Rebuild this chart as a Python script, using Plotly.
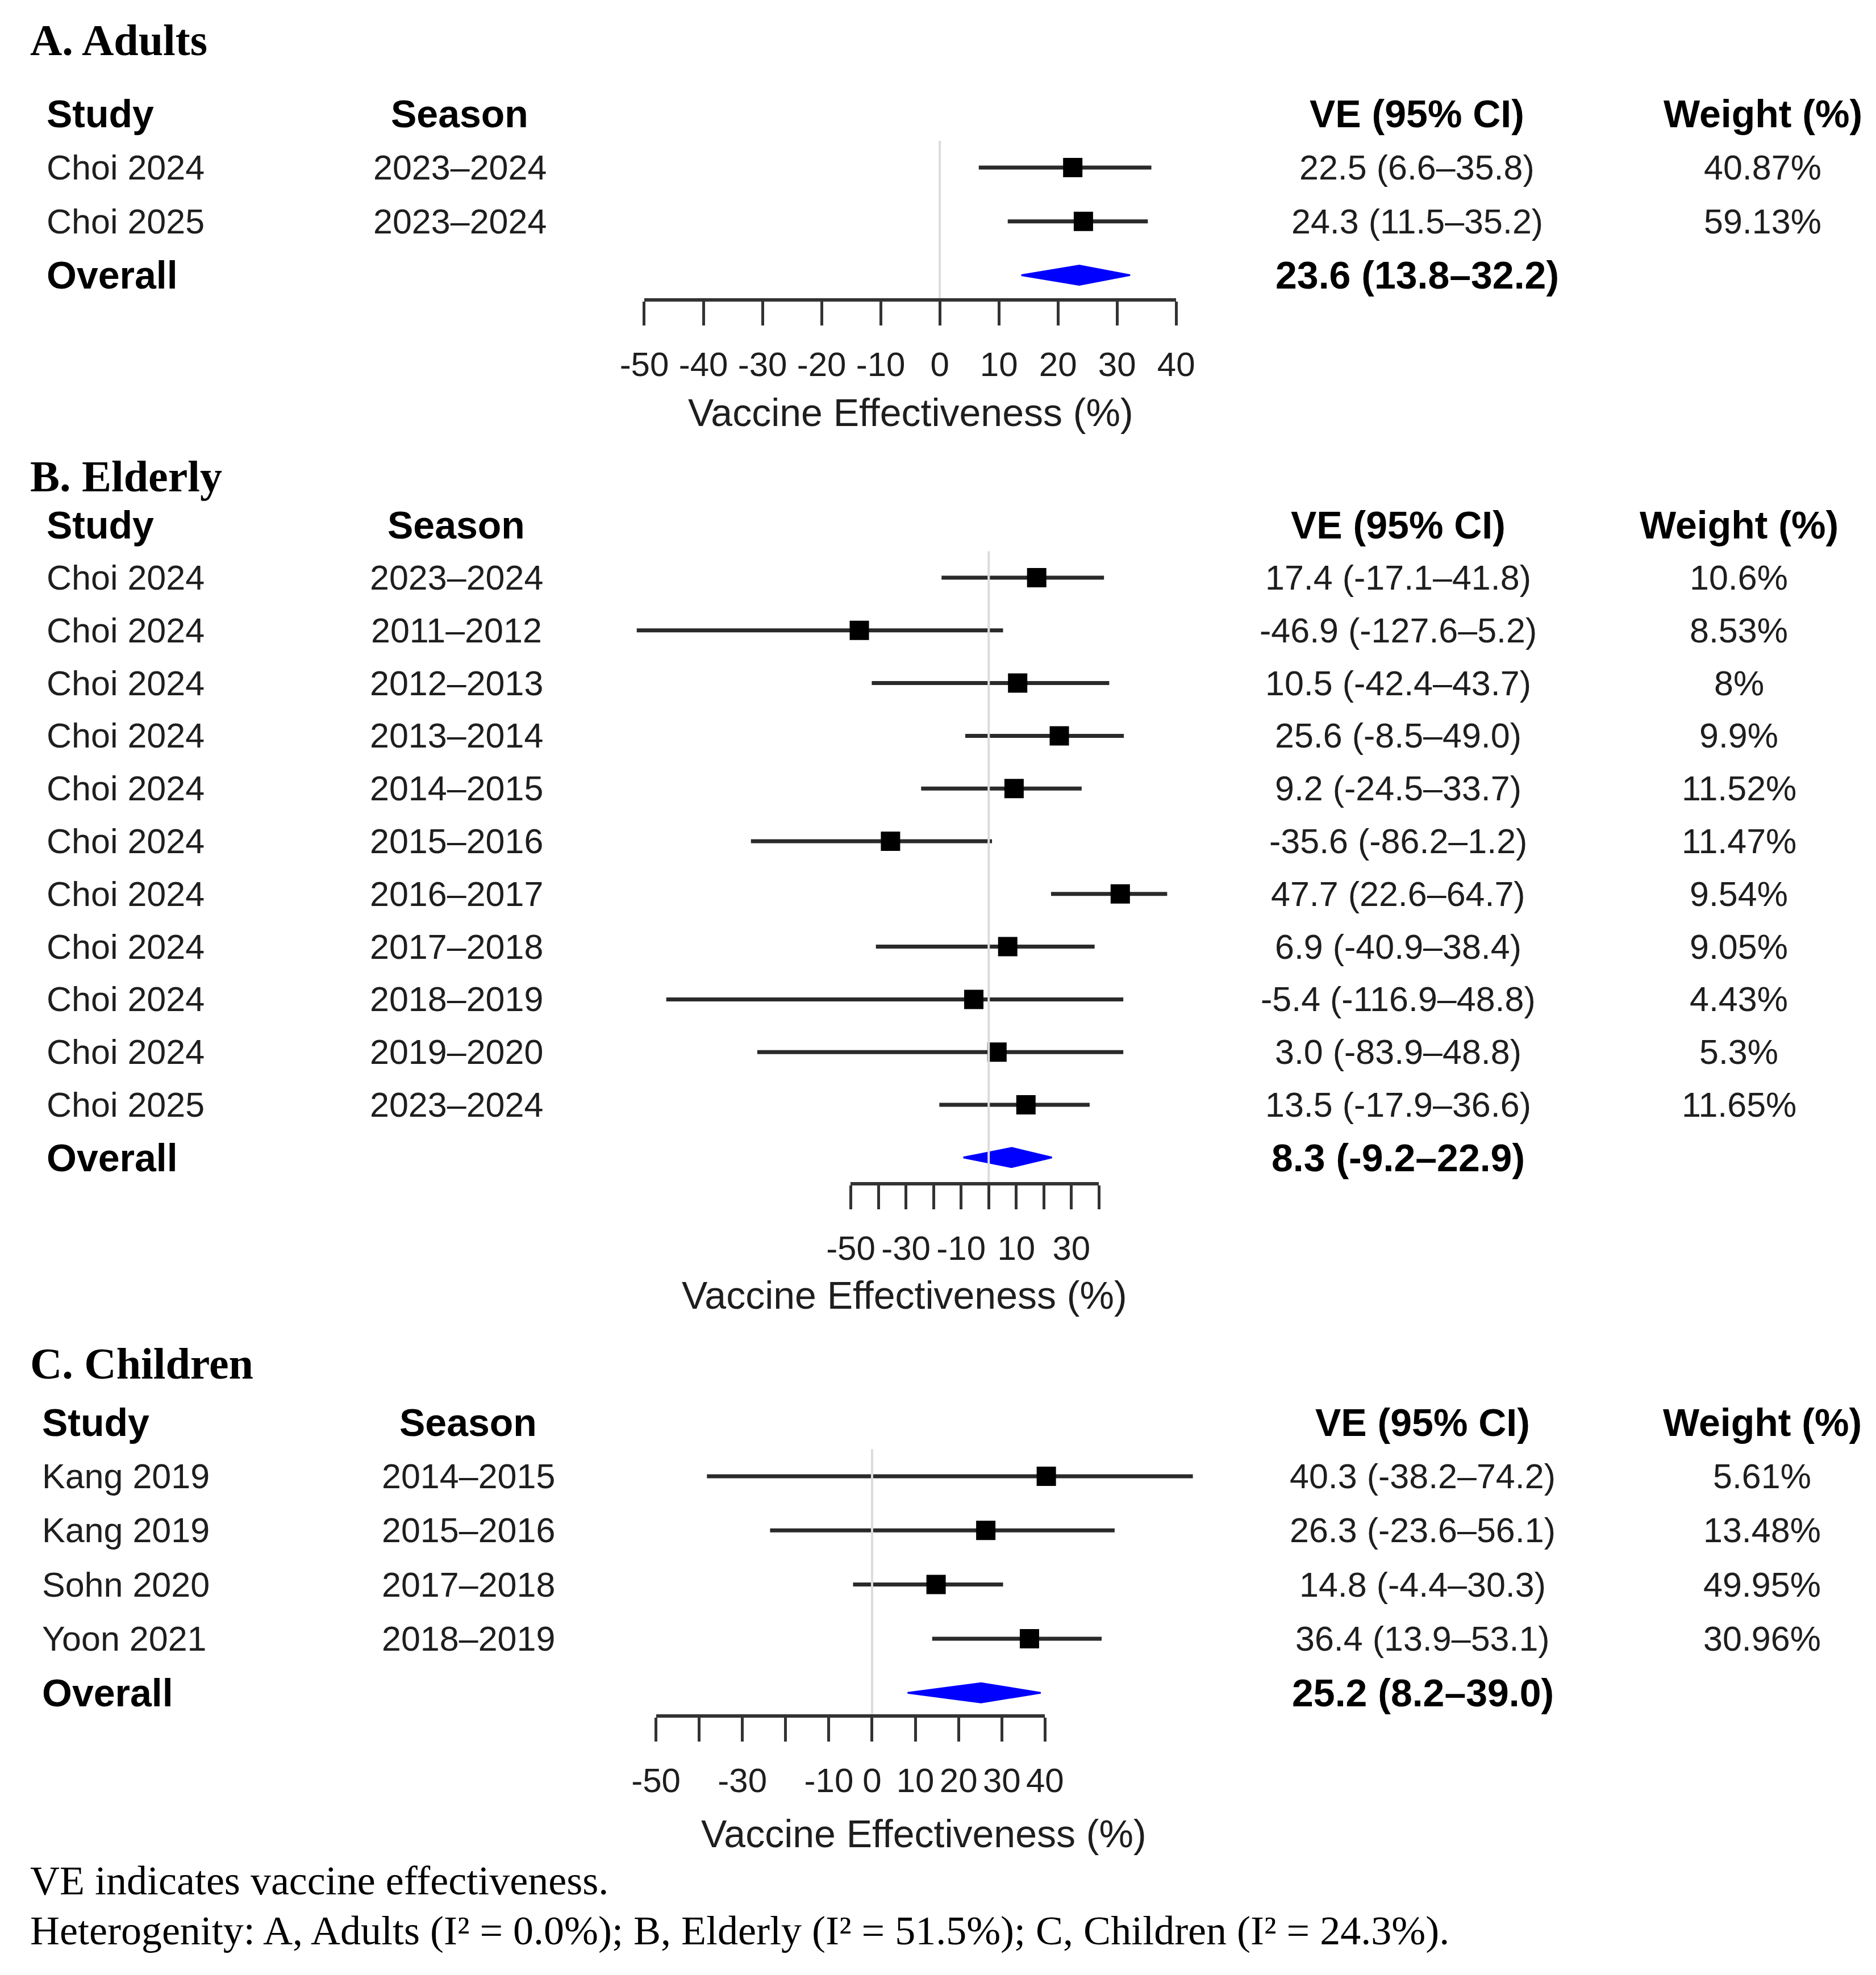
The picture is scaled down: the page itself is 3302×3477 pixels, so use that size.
import plotly.graph_objects as go

W, H = 3302, 3477
SANS = "Liberation Sans, Arial, sans-serif"
SERIF = "Liberation Serif, Times New Roman, serif"
INK = "#1e1e1e"

# ---- data ----
adult_study = ["Choi 2024", "Choi 2025"]
adult_season = ["2023–2024", "2023–2024"]
adult_ve = [22.5, 24.3]
adult_lo = [6.6, 11.5]
adult_hi = [35.8, 35.2]
adult_w = [40.87, 59.13]
adult_pooled = [23.6, 13.8, 32.2]

eld_study = ["Choi 2024"] * 10 + ["Choi 2025"]
eld_season = ["2023–2024", "2011–2012", "2012–2013", "2013–2014", "2014–2015",
              "2015–2016", "2016–2017", "2017–2018", "2018–2019", "2019–2020",
              "2023–2024"]
eld_ve = [17.4, -46.9, 10.5, 25.6, 9.2, -35.6, 47.7, 6.9, -5.4, 3.0, 13.5]
eld_lo = [-17.1, -127.6, -42.4, -8.5, -24.5, -86.2, 22.6, -40.9, -116.9, -83.9, -17.9]
eld_hi = [41.8, 5.2, 43.7, 49.0, 33.7, 1.2, 64.7, 38.4, 48.8, 48.8, 36.6]
eld_w = [10.6, 8.53, 8, 9.9, 11.52, 11.47, 9.54, 9.05, 4.43, 5.3, 11.65]
eld_pooled = [8.3, -9.2, 22.9]

child_study = ["Kang 2019", "Kang 2019", "Sohn 2020", "Yoon 2021"]
child_season = ["2014–2015", "2015–2016", "2017–2018", "2018–2019"]
child_ve = [40.3, 26.3, 14.8, 36.4]
child_lo = [-38.2, -23.6, -4.4, 13.9]
child_hi = [74.2, 56.1, 30.3, 53.1]
child_w = [5.61, 13.48, 49.95, 30.96]
child_pooled = [25.2, 8.2, 39.0]

tick_vals = [-50, -40, -30, -20, -10, 0, 10, 20, 30, 40]
tick_text_a = ["-50", "-40", "-30", "-20", "-10", "0", "10", "20", "30", "40"]
tick_text_b = ["-50", "", "-30", "", "-10", "", "10", "", "30", ""]
tick_text_c = ["-50", "", "-30", "", "-10", "0", "10", "20", "30", "40"]

# page placement: measured positions -> figure pixels (the page sits a bit in from the left)
SX, OX, OY = 1.0248, -49, -8


def fx(v):
    return max(0.0, SX * v + OX)


def fy(v):
    return v + OY


panels = [
    dict(title="A. Adults", title_y=70, study=adult_study, season=adult_season,
         ve=adult_ve, lo=adult_lo, hi=adult_hi, w=adult_w, pooled=adult_pooled,
         ticktext=tick_text_a, row1=295, sp=94.7, zero=1649, ppu=10.39, axis_px=528,
         xt_x=1598, xt_y=726, cols=(77, 805, 2488, 3096)),
    dict(title="B. Elderly", title_y=838, study=eld_study, season=eld_season,
         ve=eld_ve, lo=eld_lo, hi=eld_hi, w=eld_w, pooled=eld_pooled,
         ticktext=tick_text_b, row1=1017, sp=92.8, zero=1735, ppu=4.849, axis_px=2084,
         xt_x=1587, xt_y=2280, cols=(77, 799, 2455, 3054)),
    dict(title="C. Children", title_y=2400, study=child_study, season=child_season,
         ve=child_ve, lo=child_lo, hi=child_hi, w=child_w, pooled=child_pooled,
         ticktext=tick_text_c, row1=2599, sp=95.3, zero=1530, ppu=7.6, axis_px=3021,
         xt_x=1621, xt_y=3228, cols=(69, 820, 2498, 3095)),
]

fig = go.Figure()
annotations = []
layout_axes = {}


def ve_label(v, lo, hi):
    return f"{v:.1f} ({lo:.1f}–{hi:.1f})"


for k, p in enumerate(panels):
    n = len(p["ve"])
    xa = "x" if k == 0 else f"x{k + 1}"
    ya = "y" if k == 0 else f"y{k + 1}"
    xd = f"x{k + 4}"   # drawn axis (-50..40)
    rows = list(range(1, n + 1))
    pooled_row = n + 1
    axis_row = 1 + (p["axis_px"] - p["row1"]) / p["sp"]

    zero = fx(p["zero"])
    ppu = p["ppu"] * SX
    row1 = fy(p["row1"])
    sp = p["sp"]

    # CI lines + squares
    fig.add_trace(go.Scatter(
        x=p["ve"], y=rows, xaxis=xa, yaxis=ya, mode="markers",
        marker=dict(symbol="square", size=34, color="black"),
        error_x=dict(type="data", symmetric=False,
                     array=[h - v for h, v in zip(p["hi"], p["ve"])],
                     arrayminus=[v - l for v, l in zip(p["ve"], p["lo"])],
                     width=0, thickness=7, color="#2a2a2a"),
        showlegend=False, hoverinfo="skip"))

    # pooled diamond
    est, plo, phi = p["pooled"]
    hh = 17 / sp
    fig.add_trace(go.Scatter(
        x=[plo, est, phi, est, plo],
        y=[pooled_row, pooled_row - hh, pooled_row, pooled_row + hh, pooled_row],
        xaxis=xa, yaxis=ya, mode="lines", fill="toself",
        fillcolor="#0000ff", line=dict(color="#0000ff", width=3),
        showlegend=False, hoverinfo="skip"))

    # reference line at 0 on the drawn axis
    fig.add_trace(go.Scatter(
        x=[0, 0], y=[0.5, axis_row], xaxis=xd, yaxis=ya, mode="lines",
        line=dict(color="#dcdcdc", width=4), showlegend=False, hoverinfo="skip"))

    layout_axes["xaxis" if k == 0 else f"xaxis{k + 1}"] = dict(
        domain=[0, 1], range=[-zero / ppu, (W - zero) / ppu], visible=False, anchor=ya)
    layout_axes["yaxis" if k == 0 else f"yaxis{k + 1}"] = dict(
        domain=[0, 1], range=[1 + (H - row1) / sp, 1 - row1 / sp], visible=False, anchor=xa)
    layout_axes[f"xaxis{k + 4}"] = dict(
        domain=[(zero - 50 * ppu) / W, (zero + 40 * ppu) / W],
        range=[-50, 40], anchor="free", position=1 - fy(p["axis_px"]) / H,
        tickmode="array", tickvals=tick_vals, ticktext=p["ticktext"],
        ticks="outside", ticklen=42, tickwidth=5, tickcolor="#333333",
        showline=True, linewidth=6, linecolor="#333333",
        showgrid=False, zeroline=False, ticklabelstandoff=17,
        tickfont=dict(family=SANS, size=60, color=INK))

    # panel title
    annotations.append(dict(text=f"<b>{p['title']}</b>", x=fx(31) / W,
                            y=1 - fy(p["title_y"]) / H,
                            xref="paper", yref="paper", xanchor="left", yanchor="middle",
                            showarrow=False, font=dict(family=SERIF, size=78, color="black")))
    # axis title
    annotations.append(dict(text="Vaccine Effectiveness (%)", x=fx(p["xt_x"]) / W,
                            y=1 - fy(p["xt_y"]) / H, xref="paper", yref="paper",
                            xanchor="center", yanchor="middle", showarrow=False,
                            font=dict(family=SANS, size=68, color=INK)))

    c_study, c_season, c_ve, c_w = (fx(c) / W for c in p["cols"])
    bold = dict(family=SANS, size=68, color="black")
    reg = dict(family=SANS, size=61, color=INK)
    heads = [("Study", c_study, "left"), ("Season", c_season, "center"),
             ("VE (95% CI)", c_ve, "center"), ("Weight (%)", c_w, "center")]
    for txt, cx, anc in heads:
        annotations.append(dict(text=f"<b>{txt}</b>", x=cx, y=0, xref="paper", yref=ya,
                                xanchor=anc, yanchor="middle", showarrow=False, font=bold))
    for i in range(n):
        r = i + 1
        cells = [(p["study"][i], c_study, "left"), (p["season"][i], c_season, "center"),
                 (ve_label(p["ve"][i], p["lo"][i], p["hi"][i]), c_ve, "center"),
                 (f"{p['w'][i]:g}%", c_w, "center")]
        for txt, cx, anc in cells:
            annotations.append(dict(text=txt, x=cx, y=r, xref="paper", yref=ya,
                                    xanchor=anc, yanchor="middle", showarrow=False, font=reg))
    annotations.append(dict(text="<b>Overall</b>", x=c_study, y=pooled_row, xref="paper",
                            yref=ya, xanchor="left", yanchor="middle", showarrow=False,
                            font=bold))
    annotations.append(dict(text=f"<b>{ve_label(est, plo, phi)}</b>", x=c_ve, y=pooled_row,
                            xref="paper", yref=ya, xanchor="center", yanchor="middle",
                            showarrow=False, font=bold))

# footnotes
notes = ["VE indicates vaccine effectiveness.",
         "Heterogenity: A, Adults (I² = 0.0%); B, Elderly (I² = 51.5%); C, Children (I² = 24.3%)."]
for txt, yy in zip(notes, [3311, 3399]):
    annotations.append(dict(text=txt, x=fx(31) / W, y=1 - fy(yy) / H, xref="paper",
                            yref="paper", xanchor="left", yanchor="middle", showarrow=False,
                            font=dict(family=SERIF, size=72, color="black")))

fig.update_layout(
    width=W, height=H, margin=dict(l=0, r=0, t=0, b=0),
    paper_bgcolor="white", plot_bgcolor="rgba(0,0,0,0)",
    showlegend=False, annotations=annotations, **layout_axes)

fig.write_html("out.html")
